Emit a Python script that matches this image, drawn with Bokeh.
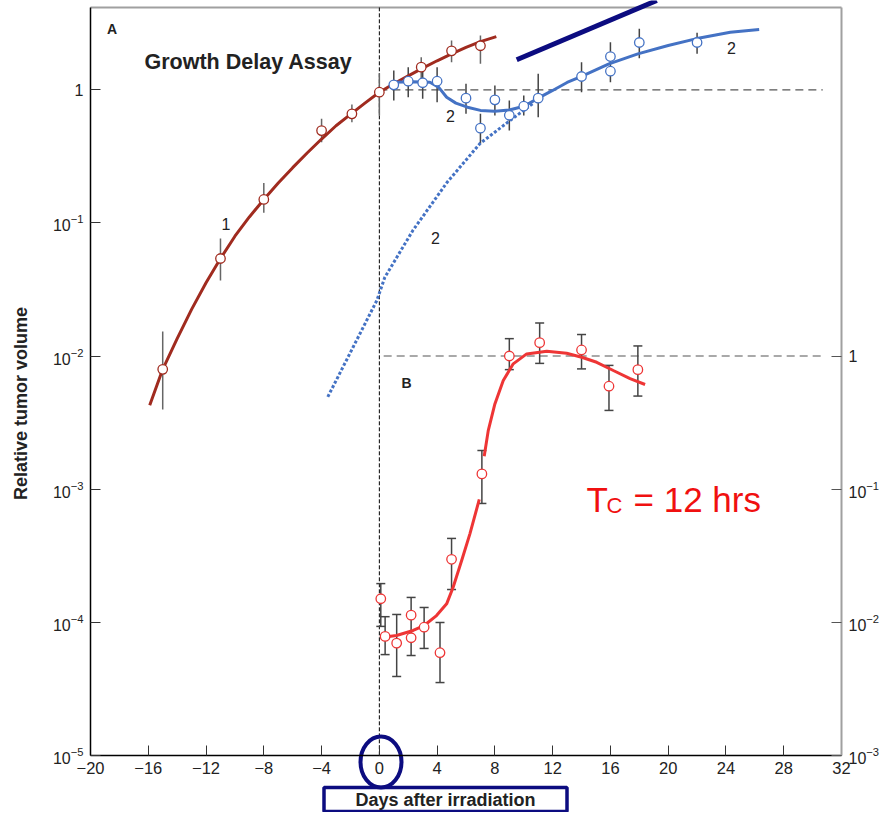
import numpy as np
from bokeh.plotting import figure
from bokeh.models import (Range1d, LogScale, LogAxis, LinearAxis, FixedTicker, Label,
                          ColumnDataSource)
from bokeh.core.properties import value
from bokeh.embed import file_html
from bokeh.resources import INLINE

# ---------------- data ----------------
x_ticks = [-20, -16, -12, -8, -4, 0, 4, 8, 12, 16, 20, 24, 28, 32]
x_tick_labels = ["\u221220", "\u221216", "\u221212", "\u22128", "\u22124", "0", "4", "8",
                 "12", "16", "20", "24", "28", "32"]
y_left_ticks = [1e-5, 1e-4, 1e-3, 1e-2, 1e-1, 1.0]
y_right_ticks = [1e-3, 1e-2, 1e-1, 1.0]

# curve 1: unirradiated growth (panel A)
c1_day = [-15.9, -15, -14, -13, -12, -11, -10, -9, -8, -7, -6, -5, -4, -3, -2, -1,
          0, 1, 2, 3, 4, 5, 6, 7, 8.1]
c1_vol = [0.00427, 0.00794, 0.01349, 0.02239, 0.03548, 0.05395, 0.07943, 0.1109, 0.1500,
          0.1995, 0.2600, 0.3350, 0.4266, 0.5370, 0.6531, 0.7943, 0.9594, 1.109, 1.274,
          1.455, 1.652, 1.862, 2.080, 2.301, 2.512]
p1_day = [-15, -11, -8, -4, -1.9, 0, 2.9, 5, 7]
p1_vol = [0.00794, 0.0540, 0.150, 0.494, 0.660, 0.959, 1.479, 1.963, 2.142]
p1_hi = [0.01528, 0.0763, 0.199, 0.605, 0.776, 1.333, 1.758, 2.345, 2.559]
p1_lo = [0.00396, 0.0369, 0.119, 0.404, 0.571, 0.641, 1.21, 1.611, 1.567]

# curve 2: irradiated growth (panel A)
c2_day = [1.0, 2.3, 3.5, 4.1, 4.66, 5.3, 6.1, 7.0, 8.0, 9.0, 9.74, 10.4, 11.0, 12.0,
          13.0, 14.0, 15.9, 17.9, 20.0, 21.9, 24.3, 26.3]
c2_vol = [1.14, 1.148, 1.14, 1.047, 0.879, 0.794, 0.740, 0.700, 0.690, 0.705, 0.740,
          0.794, 0.865, 0.989, 1.135, 1.259, 1.567, 1.862, 2.153, 2.415, 2.710, 2.838]
c2x_day = [-3.57, -1.82, -0.17, 0.38, 2.32, 4.68, 6.97, 9.05, 10.64]
c2x_vol = [0.00493, 0.01164, 0.0262, 0.039, 0.0877, 0.201, 0.395, 0.588, 0.789]
p2_day = [1, 2, 3, 4, 6, 7, 8, 9, 10, 11, 14, 16, 16, 18, 22]
p2_vol = [1.09, 1.16, 1.13, 1.16, 0.865, 0.515, 0.841, 0.644, 0.753, 0.865, 1.259,
          1.778, 1.379, 2.266, 2.266]
p2_hi = [1.397, 1.479, 1.438, 1.479, 1.109, 0.660, 1.077, 0.831, 0.906, 1.318, 1.611,
         2.278, np.nan, 2.871, 2.68]
p2_lo = [0.831, 0.880, 0.856, 0.807, 0.660, 0.393, 0.641, 0.494, 0.641, 0.622, 0.959,
         1.14, np.nan, 1.727, 1.864]

# panel B: relative (right axis)
pb_day = [0.1, 0.4, 1.2, 2.2, 2.2, 3.1, 4.2, 5.0, 7.1, 9.0, 11.1, 14.0, 15.9, 17.9]
pb_val = [0.0150, 0.00782, 0.00696, 0.01130, 0.00764, 0.00917, 0.0059, 0.0297, 0.130,
          1.0, 1.26, 1.11, 0.593, 0.79]
pb_hi = [0.0195, 0.0110, 0.01143, 0.01535, np.nan, 0.0129, 0.00995, 0.0426, 0.195,
         1.35, 1.77, 1.45, 0.85, 1.19]
pb_lo = [0.0093, 0.00571, 0.00391, 0.00562, np.nan, 0.00635, 0.00352, 0.0176, 0.078,
         0.79, 0.88, 0.80, 0.39, 0.50]
cb1_day = [0.26, 1.19, 2.34, 3.10, 3.96, 4.66, 5.11, 5.70, 6.27, 6.92]
cb1_val = [0.00771, 0.00794, 0.00867, 0.00944, 0.01122, 0.01374, 0.01832, 0.0291, 0.0461, 0.0836]
cb2_day = [7.26, 7.54, 8.00, 8.58, 9.27, 10.20, 11.59, 12.97, 14.01, 15.05, 16.20, 17.36, 18.4]
cb2_val = [0.1766, 0.275, 0.4365, 0.655, 0.873, 1.037, 1.084, 1.049, 0.979, 0.897, 0.778, 0.675, 0.611]

# ---------------- layout helpers ----------------
FONT = "Liberation Sans"
RED1 = "#A02B1F"
BLUE = "#4472C4"
REDB = "#EE3535"
NAVY = "#0C0C80"
EBAR = "#444444"
GRAY = "#A0A0A0"

W, H = 882, 812
PX_DAY = 751 / 52.0     # pixels per day
PX_LEFT = 90            # pixel column of day -20
PX_DEC = 133.1          # pixels per decade
PX_ONE = 89.3           # pixel row of value 1 (left scale)


def xday(px):
    return -20 + (px - PX_LEFT) / PX_DAY


def ylog(py):
    return 10 ** ((PX_ONE - py) / PX_DEC)


X_MIN, X_MAX = x_ticks[0], x_ticks[-1]
Y_TOP = ylog(7)
Y_BOT = 1e-5

p = figure(frame_width=W, frame_height=H, x_range=Range1d(xday(0), xday(W)),
           y_range=Range1d(ylog(H), ylog(0)), y_axis_type="log",
           x_axis_location=None, y_axis_location=None,
           output_backend="svg", toolbar_location=None, min_border=0)
p.extra_y_ranges = {"r": Range1d(ylog(H) * 100, ylog(0) * 100)}
p.extra_y_scales = {"r": LogScale()}
p.xgrid.visible = False
p.ygrid.visible = False
p.outline_line_color = None
p.background_fill_color = "white"
p.border_fill_color = "white"


def style_axis(ax, line_color, line_width, tick_color, size):
    ax.major_tick_in = 10
    ax.major_tick_out = 0
    ax.minor_tick_line_color = None
    ax.axis_line_color = line_color
    ax.axis_line_width = line_width
    ax.major_tick_line_color = tick_color
    ax.major_label_text_font = FONT
    ax.major_label_text_font_size = size
    ax.major_label_text_color = "#222222"


# left axis
la = LogAxis(fixed_location=X_MIN, bounds=(Y_BOT, Y_TOP), ticker=FixedTicker(ticks=y_left_ticks))
la.major_label_overrides = {1.0: "1"}
style_axis(la, "black", 1.5, "#333333", "16px")
la.major_label_standoff = 7
p.add_layout(la, "left")

# right axis
ra = LogAxis(y_range_name="r", fixed_location=X_MAX, bounds=(Y_BOT * 100, Y_TOP * 100),
             ticker=FixedTicker(ticks=y_right_ticks))
ra.major_label_overrides = {1.0: "1"}
style_axis(ra, GRAY, 2, "#555555", "16px")
ra.major_label_standoff = 7
p.add_layout(ra, "right")

# bottom axis
ba = LinearAxis(fixed_location=Y_BOT, bounds=(X_MIN, X_MAX), ticker=FixedTicker(ticks=x_ticks))
ba.major_label_overrides = {t: l for t, l in zip(x_ticks, x_tick_labels)}
style_axis(ba, "black", 1.5, "#333333", "16.5px")
ba.major_label_standoff = 7
p.add_layout(ba, "below")

# top border of the frame
p.line([X_MIN, X_MAX], [Y_TOP, Y_TOP], line_color=GRAY, line_width=2)

# reference lines
p.line([0, 0], [Y_BOT, Y_TOP], line_color="black", line_dash="4 2", line_width=1)
p.line([0, 30.7], [1, 1], line_color="#555555", line_dash="8 5", line_width=1.2)
p.line([0.3, 30.7], [1, 1], y_range_name="r", line_color="#555555", line_dash="8 5", line_width=1.2)

# error bars
s1 = ColumnDataSource(dict(x=p1_day, y=p1_vol, hi=p1_hi, lo=p1_lo))
s2 = ColumnDataSource(dict(x=p2_day, y=p2_vol, hi=np.array(p2_hi), lo=np.array(p2_lo)))
sb = ColumnDataSource(dict(x=pb_day, y=pb_val, hi=np.array(pb_hi), lo=np.array(pb_lo)))
p.segment(x0="x", y0="lo", x1="x", y1="hi", source=s1, line_color="#666666", line_width=1.5)
p.segment(x0="x", y0="lo", x1="x", y1="hi", source=s2, line_color=EBAR, line_width=1.5)
p.segment(x0="x", y0="lo", x1="x", y1="hi", source=sb, line_color=EBAR, line_width=1.5,
          y_range_name="r")
p.scatter(x="x", y="hi", source=sb, marker="dash", size=9, line_color=EBAR, line_width=1.5,
          y_range_name="r")
p.scatter(x="x", y="lo", source=sb, marker="dash", size=9, line_color=EBAR, line_width=1.5,
          y_range_name="r")

# curves
p.line(c1_day, c1_vol, line_color=RED1, line_width=3)
p.line(c2x_day, c2x_vol, line_color=BLUE, line_width=3, line_dash="3 2")
p.line(c2_day, c2_vol, line_color=BLUE, line_width=3)
p.line(cb1_day, cb1_val, line_color=REDB, line_width=3, y_range_name="r")
p.line(cb2_day, cb2_val, line_color=REDB, line_width=3, y_range_name="r")

# markers
p.scatter(x="x", y="y", source=s1, size=9.5, fill_color="white", line_color=RED1, line_width=1.3)
p.scatter(x="x", y="y", source=s2, size=9.5, fill_color="white", line_color=BLUE, line_width=1.3)
p.scatter(x="x", y="y", source=sb, size=9.5, fill_color="white", line_color=REDB, line_width=1.3,
          y_range_name="r")

# highlight stroke
p.line([9.51, 19.21], [1.68, ylog(0)], line_color=NAVY, line_width=5)


# text annotations
def lab(px, py, text, size, style="normal", color="#222222", align="center",
        baseline="middle", angle=0):
    p.add_layout(Label(x=xday(px), y=ylog(py), text=text, text_font=FONT, text_font_size=size,
                       text_font_style=style, text_color=color, text_align=align,
                       text_baseline=baseline, angle=angle))


lab(20, 403, "Relative tumor volume", "18px", "bold", angle=np.pi / 2)
lab(111.5, 28, "A", "14px", "bold")
lab(144, 61, "Growth Delay Assay", "21.5px", "bold", align="left")
lab(225.5, 223, "1", "16px")
lab(450, 115, "2", "16px")
lab(435, 237, "2", "16px")
lab(731, 47, "2", "16px")
lab(406, 382.5, "B", "14px", "bold")
lab(586, 499, "T", "35px", color="#F01010", align="left", baseline="alphabetic")
lab(606, 505, "C", "22px", color="#F01010", align="left", baseline="alphabetic")
lab(633, 499, "= 12 hrs", "35px", color="#F01010", align="left", baseline="alphabetic")
lab(445, 799.5, "Days after irradiation", "18px", "bold")

# navy ellipse around the 0 tick and box around the axis title
p.ellipse(x=[xday(380.5)], y=[ylog(761.5)], width=41, height=51, width_units="screen",
          height_units="screen", fill_color=None, line_color=NAVY, line_width=4)
p.rect(x=[xday(445)], y=[ylog(799)], width=243, height=24, width_units="screen",
       height_units="screen", fill_color=None, line_color=NAVY, line_width=3.5)

open("out.html", "w").write(file_html(p, INLINE))
